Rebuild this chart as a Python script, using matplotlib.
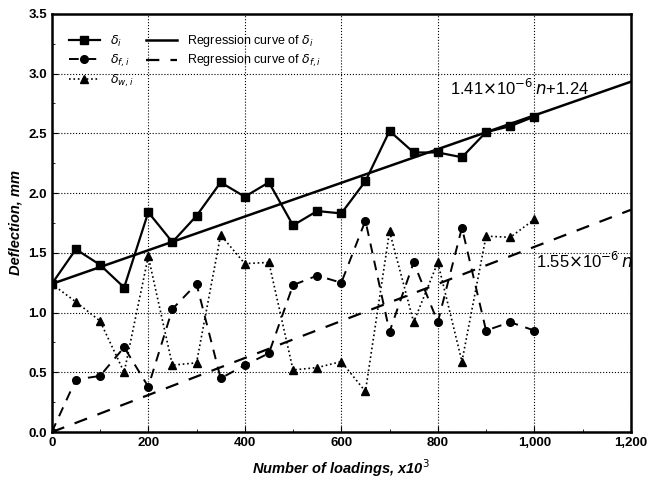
import matplotlib.pyplot as plt
from matplotlib.ticker import MultipleLocator, FuncFormatter

plt.rcParams['font.family'] = ['Liberation Sans', 'DejaVu Sans']

# loadings, x10^3
loadings = [0, 50, 100, 150, 200, 250, 300, 350, 400, 450, 500,
            550, 600, 650, 700, 750, 800, 850, 900, 950, 1000]

# total deflection
d_i = [1.24, 1.53, 1.40, 1.21, 1.84, 1.59, 1.81, 2.09, 1.97, 2.09, 1.73,
       1.85, 1.83, 2.10, 2.52, 2.34, 2.34, 2.30, 2.51, 2.56, 2.64]
# deflection f,i
d_fi = [0.00, 0.44, 0.47, 0.71, 0.38, 1.03, 1.24, 0.45, 0.56, 0.66, 1.23,
        1.31, 1.25, 1.77, 0.84, 1.42, 0.92, 1.71, 0.85, 0.92, 0.85]
# deflection w,i
d_wi = [1.24, 1.09, 0.93, 0.50, 1.47, 0.56, 0.58, 1.65, 1.41, 1.42, 0.52,
        0.54, 0.59, 0.34, 1.68, 0.92, 1.42, 0.59, 1.64, 1.63, 1.78]

# regression coefficients (n = number of loadings)
slope_i, icpt_i = 1.41e-6, 1.24
slope_fi = 1.55e-6
reg_x = [0, 1200]

fig = plt.figure(figsize=(6.47, 4.78), dpi=100)
ax = fig.add_axes([0.080, 0.096, 0.895, 0.875])

h1, = ax.plot(loadings, d_i, '-s', color='black', lw=1.6, ms=5.5, label=r'$\delta_i$')
h2, = ax.plot(loadings, d_fi, '--o', color='black', lw=1.4, ms=5.5, dashes=(5, 4), label=r'$\delta_{f,i}$')
h3, = ax.plot(loadings, d_wi, ':^', color='black', lw=1.2, ms=5.5, label=r'$\delta_{w,i}$')
h4, = ax.plot(reg_x, [slope_i * x * 1000 + icpt_i for x in reg_x], '-', color='black', lw=1.8,
              label=r'Regression curve of $\delta_i$')
h5, = ax.plot(reg_x, [slope_fi * x * 1000 for x in reg_x], '--', color='black', lw=1.6, dashes=(6, 5),
              label=r'Regression curve of $\delta_{f,i}$')

ax.text(825, 2.82, r'1.41$\times$10$^{-6}$$\,n$+1.24', fontsize=12)
ax.text(1004, 1.37, r'1.55$\times$10$^{-6}$$\,n$', fontsize=12)

ax.set_xlim(0, 1200)
ax.set_ylim(0, 3.5)
ax.xaxis.set_major_locator(MultipleLocator(200))
ax.xaxis.set_minor_locator(MultipleLocator(100))
ax.yaxis.set_major_locator(MultipleLocator(0.5))
ax.yaxis.set_minor_locator(MultipleLocator(0.25))
ax.xaxis.set_major_formatter(FuncFormatter(lambda v, p: f'{int(v):,}'))
ax.yaxis.set_major_formatter(FuncFormatter(lambda v, p: f'{v:.1f}'))
ax.grid(True, which='major', color='black', ls=':', lw=0.8)
ax.tick_params(which='both', direction='in', labelsize=9.5)
ax.tick_params(which='major', length=4)
ax.tick_params(which='minor', length=2)
for lbl in ax.get_xticklabels() + ax.get_yticklabels():
    lbl.set_fontweight('bold')
for sp in ax.spines.values():
    sp.set_linewidth(1.8)

ax.set_xlabel(r'Number of loadings, x10$^3$', fontsize=10.5, fontweight='bold', style='italic', labelpad=6)
ax.set_ylabel('Deflection, mm', fontsize=10.5, fontweight='bold', style='italic', labelpad=4)

ax.legend(handles=[h1, h2, h3, h4, h5], ncol=2, loc='upper left', frameon=False,
          fontsize=9, handlelength=2.5, columnspacing=1.0, labelspacing=0.3,
          bbox_to_anchor=(0.01, 0.98))

fig.savefig('out.png', dpi=100)
